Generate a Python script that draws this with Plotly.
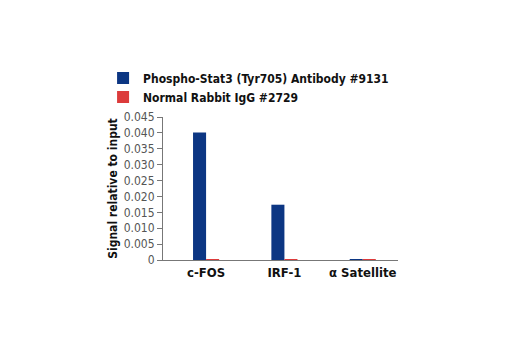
import plotly.graph_objects as go

categories = ["c-FOS", "IRF-1", "α Satellite"]
phospho_stat3 = [0.0401, 0.0174, 0.0002]
normal_igg = [0.0003, 0.0003, 0.0001]
series_names = ["Phospho-Stat3 (Tyr705) Antibody #9131", "Normal Rabbit IgG #2729"]
y_ticks = [0, 0.005, 0.010, 0.015, 0.020, 0.025, 0.030, 0.035, 0.040, 0.045]
y_tick_text = ["0", "0.005", "0.010", "0.015", "0.020", "0.025", "0.030", "0.035", "0.040", "0.045"]

FONT = "DejaVu Sans Condensed, Liberation Sans Narrow, Arial, sans-serif"

fig = go.Figure()
fig.add_trace(go.Bar(x=categories, y=phospho_stat3, name=series_names[0],
                     marker=dict(color="#0c3683", line=dict(width=0))))
fig.add_trace(go.Bar(x=categories, y=normal_igg, name=series_names[1],
                     marker=dict(color="#dc3b3b", line=dict(width=0))))

fig.update_layout(
    width=520, height=350,
    margin=dict(l=163, r=122, t=117, b=90),
    paper_bgcolor="white", plot_bgcolor="white",
    barmode="group", bargap=0.667, bargroupgap=0,
    font=dict(family=FONT, color="#333"),
    showlegend=True,
    legend=dict(x=-0.255, y=1.375, xanchor="left", yanchor="top",
                font=dict(family=FONT, size=12, color="#111", weight="bold"),
                tracegroupgap=0, bgcolor="rgba(0,0,0,0)"),
    xaxis=dict(type="category", range=[-0.55, 2.45], showline=True, linecolor="#777", linewidth=1,
               ticks="", tickfont=dict(family=FONT, size=13, color="#111", weight="bold"),
               showgrid=False, zeroline=False),
    yaxis=dict(range=[0, 0.045], tickvals=y_ticks, ticktext=y_tick_text,
               showline=True, linecolor="#777", linewidth=1,
               ticks="outside", ticklen=5, tickcolor="#777",
               tickfont=dict(family=FONT, size=12, color="#555"),
               showgrid=False, zeroline=False,
               title=dict(text="Signal relative to input", standoff=3,
                          font=dict(family=FONT, size=12, color="#111", weight="bold"))),
)

fig.write_html("out.html")
